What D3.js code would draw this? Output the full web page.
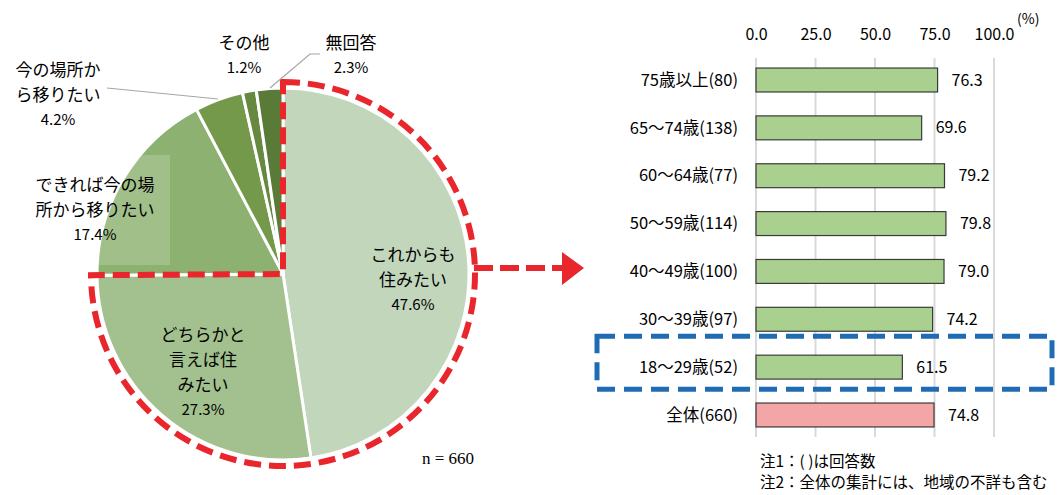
<!DOCTYPE html>
<html><head><meta charset="utf-8">
<script src="https://cdn.jsdelivr.net/npm/d3@7"></script>
<style>
html,body{margin:0;padding:0;background:#fff;}
text{font-family:"Noto Sans CJK JP","Noto Sans",sans-serif;fill:#000;}
</style></head>
<body><svg id="c" width="1059" height="495"></svg>
<script>
// ---- Pie data ----
const pieNames = ["これからも住みたい","どちらかと言えば住みたい","できれば今の場所から移りたい","今の場所から移りたい","その他","無回答"];
const pieValues = [47.6, 27.3, 17.4, 4.2, 1.2, 2.3];
const pieColors = ["#c2d6bc","#a3c08f","#8cb170","#74994b","#67893f","#5a7a38"];
const pieLabelLines = [
  ["これからも","住みたい","47.6%"],
  ["どちらかと","言えば住","みたい","27.3%"],
  ["できれば今の場","所から移りたい","17.4%"],
  ["今の場所か","ら移りたい","4.2%"],
  ["その他","1.2%"],
  ["無回答","2.3%"]
];
// ---- Bar data ----
const barCategories = ["75歳以上(80)","65〜74歳(138)","60〜64歳(77)","50〜59歳(114)","40〜49歳(100)","30〜39歳(97)","18〜29歳(52)","全体(660)"];
const barValues = [76.3, 69.6, 79.2, 79.8, 79.0, 74.2, 61.5, 74.8];
const tickValues = [0, 25, 50, 75, 100];
const notes = ["注1：( )は回答数","注2：全体の集計には、地域の不詳も含む"];

const svg = d3.select("#c");

// ===== PIE =====
const cx = 283, cy = 274, r = 186;
const pie = d3.pie().sort(null).value(d => d)(pieValues);
const arc = d3.arc().innerRadius(0).outerRadius(r);
const gp = svg.append("g").attr("transform", `translate(${cx},${cy})`);
gp.selectAll("path.slice").data(pie).enter().append("path")
  .attr("class","slice")
  .attr("d", arc)
  .attr("fill", (d,i) => pieColors[i])
  .attr("stroke", "#fff").attr("stroke-width", 3).attr("stroke-linejoin","round");

// translucent label box behind 17.4% label
svg.append("rect").attr("x", 20).attr("y", 155).attr("width", 150).attr("height", 110)
  .attr("fill", "#fff").attr("opacity", 0.18);

// red dashed outline around "住みたい" group
const groupEnd = pie[1].endAngle;
const outline = d3.arc().innerRadius(0).outerRadius(192).startAngle(0).endAngle(groupEnd);
gp.append("path").attr("d", outline())
  .attr("fill","none").attr("stroke","#e8262b").attr("stroke-width",6)
  .attr("stroke-dasharray","17 8");

// arrow
svg.append("line").attr("x1", 474).attr("x2", 562).attr("y1", 268).attr("y2", 268)
  .attr("stroke","#e8262b").attr("stroke-width",6).attr("stroke-dasharray","19 7");
svg.append("path").attr("d","M562,252 L584,268 L562,285 Z").attr("fill","#e8262b");

// pie labels
const labelPos = [
  {x:413, y:255}, {x:203, y:335}, {x:95, y:185}, {x:58, y:70}, {x:244, y:43}, {x:351, y:43}
];
const lh = 25;
pieLabelLines.forEach((lines, i) => {
  const t = svg.append("text").attr("text-anchor","middle");
  lines.forEach((ln, j) => {
    t.append("tspan").attr("x", labelPos[i].x).attr("y", labelPos[i].y + j*lh).attr("dy","0.35em")
      .style("font-size", j === lines.length-1 ? "15px" : "17px")
      .text(ln);
  });
});
// leader lines
svg.append("path").attr("d","M107,88 L218,99").attr("stroke","#a6a6a6").attr("stroke-width",1.2).attr("fill","none");
svg.append("path").attr("d","M270,88 L310,54 L320,54").attr("stroke","#a6a6a6").attr("stroke-width",1.2).attr("fill","none");

svg.append("text").attr("x", 422).attr("y", 458).attr("dy","0.35em")
  .style("font-family","'Liberation Serif','DejaVu Serif',serif").style("font-size","17px")
  .attr("fill","#222")
  .text("n = 660");

// ===== BAR CHART =====
const x = d3.scaleLinear().domain([0,100]).range([756, 994]);
const y = d3.scaleBand().domain(barCategories).range([58, 437]).paddingInner(0.5).paddingOuter(0.21);

// gridlines
svg.append("g").selectAll("line").data(tickValues).enter().append("line")
  .attr("x1", d => x(d)).attr("x2", d => x(d)).attr("y1", 58).attr("y2", 437)
  .attr("stroke","#d9d9d9").attr("stroke-width",2);

// top axis
const ax = svg.append("g").attr("transform","translate(0,44)")
  .call(d3.axisTop(x).tickValues(tickValues).tickFormat(d3.format(".1f")).tickSize(0).tickPadding(4));
ax.select(".domain").remove();
ax.selectAll("text").style("font-size","16px").style("font-family","'Noto Sans CJK JP',sans-serif").attr("fill","#000");
svg.append("text").attr("x", 1017).attr("y", 24).style("font-size","14px").text("(%)");

// bars
svg.append("g").selectAll("rect").data(barValues).enter().append("rect")
  .attr("x", x(0)).attr("y", (d,i) => y(barCategories[i]))
  .attr("width", d => x(d) - x(0)).attr("height", y.bandwidth())
  .attr("fill", (d,i) => i === barCategories.length-1 ? "#f4a6a6" : "#a9d08e")
  .attr("stroke","#3a3a3a").attr("stroke-width",1.2);

// value labels
svg.append("g").selectAll("text").data(barValues).enter().append("text")
  .attr("x", d => x(d) + 14).attr("y", (d,i) => y(barCategories[i]) + y.bandwidth()/2)
  .attr("dy","0.35em").style("font-size","16px")
  .text(d => d.toFixed(1));

// category labels
svg.append("g").selectAll("text").data(barCategories).enter().append("text")
  .attr("x", 738).attr("y", d => y(d) + y.bandwidth()/2)
  .attr("dy","0.35em").attr("text-anchor","end").style("font-size","16.5px")
  .text(d => d);

// blue dashed highlight
const hy = y(barCategories[6]);
svg.append("rect").attr("x", 597).attr("y", hy - 19).attr("width", 455).attr("height", 53)
  .attr("fill","none").attr("stroke","#1f6cb5").attr("stroke-width",5).attr("stroke-dasharray","18 9");

// notes
notes.forEach((n, i) => {
  svg.append("text").attr("x", 760).attr("y", 462 + i*21).attr("dy","0.35em")
    .style("font-size","15.5px").text(n);
});
</script></body></html>
